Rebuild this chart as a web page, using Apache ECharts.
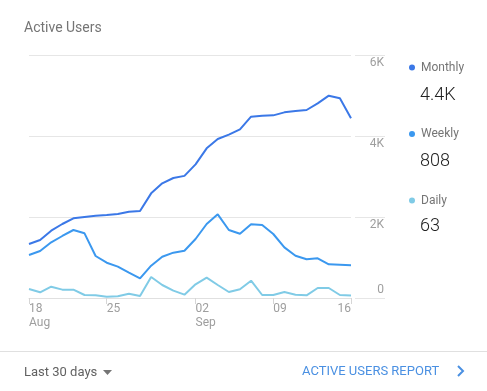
<!DOCTYPE html>
<html>
<head>
<meta charset="utf-8">
<script src="https://cdn.jsdelivr.net/npm/echarts@6/dist/echarts.min.js"></script>
<style>
html,body{margin:0;padding:0;background:#fff;}
#chart{width:487px;height:391px;}
</style>
</head>
<body>
<div id="chart"></div>
<script>
const dates = ['Aug 18','Aug 19','Aug 20','Aug 21','Aug 22','Aug 23','Aug 24','Aug 25','Aug 26','Aug 27',
  'Aug 28','Aug 29','Aug 30','Aug 31','Sep 01','Sep 02','Sep 03','Sep 04','Sep 05','Sep 06',
  'Sep 07','Sep 08','Sep 09','Sep 10','Sep 11','Sep 12','Sep 13','Sep 14','Sep 15','Sep 16'];
const tickDates = ['Aug 18','Aug 25','Sep 02','Sep 09','Sep 16'];
const tickLabels = ['18\nAug','25','02\nSep','09','16'];
const seriesNames = ['Monthly','Weekly','Daily'];
const monthly = [1333,1432,1662,1827,1967,2000,2033,2049,2074,2131,
  2148,2584,2831,2963,3015,3300,3696,3926,4035,4165,
  4477,4502,4510,4584,4617,4642,4806,4996,4930,4440];
const weekly = [1062,1160,1375,1531,1679,1597,1037,872,774,625,
  486,798,1020,1119,1168,1457,1827,2066,1679,1585,
  1819,1802,1580,1251,1045,955,980,832,823,808];
const daily = [222,140,280,206,206,74,66,33,41,107,
  50,519,321,181,82,338,502,321,148,214,
  428,74,74,148,82,66,247,247,74,63];
const yTicks = [0,2000,4000,6000];

const colors = ['#3b78e7','#3b98ef','#80cbe6'];
const FONT = 'Roboto, "Noto Sans", sans-serif';

function fmtVal(v){
  if (v >= 1000) return (Math.floor(v/100)/10).toFixed(1) + 'K';
  return String(v);
}
function fmtAxis(v){ return v === 0 ? '0' : (v/1000) + 'K'; }

const chart = echarts.init(document.getElementById('chart'));
const allSeries = [monthly, weekly, daily];
const lastVals = allSeries.map(a => a[a.length-1]);

const valueTexts = lastVals.map((v,i) => ({
  type:'text', left:420, top: 86.5 + i*65.5,
  style:{ text: fmtVal(v), fill:'#212121', font:'300 18px ' + FONT }
}));

const option = {
  animation:false,
  textStyle:{ fontFamily: FONT },
  title:{ text:'Active Users', left:19, top:16,
    textStyle:{ fontSize:14, fontWeight:'normal', color:'#757575', fontFamily: FONT } },
  legend:{
    orient:'vertical', left:404, top:56.5, itemGap:54.5,
    icon:'circle', itemWidth:6, itemHeight:6,
    data: seriesNames,
    textStyle:{ color:'#757575', fontSize:12, fontFamily: FONT, padding:[0,0,0,1] }
  },
  grid:[
    { left:29, right:136, top:55, bottom:93 },
    { left:355, right:102, top:55, bottom:93 }
  ],
  xAxis:[
    { type:'category', gridIndex:0, data:dates, boundaryGap:false,
      axisLine:{ show:true, lineStyle:{ color:'#e0e0e0' } },
      axisTick:{ show:true, length:6, lineStyle:{ color:'#d6d6d6' },
        interval:(idx,val) => tickDates.indexOf(val) >= 0 },
      axisLabel:{ color:'#9e9e9e', fontSize:12, lineHeight:14, align:'left', margin:4,
        interval:(idx,val) => tickDates.indexOf(val) >= 0 && idx < dates.length-1,
        formatter:(val) => tickLabels[tickDates.indexOf(val)] }
    },
    { type:'category', gridIndex:0, data:dates, boundaryGap:false, position:'bottom',
      axisLine:{ show:false }, axisTick:{ show:false },
      axisLabel:{ color:'#9e9e9e', fontSize:12, lineHeight:14, align:'right', margin:4,
        interval:(idx) => idx === dates.length-1,
        formatter:(val) => tickLabels[tickDates.indexOf(val)] }
    },
    { type:'value', gridIndex:1, show:false, min:0, max:1 }
  ],
  yAxis:[
    { type:'value', gridIndex:0, min:yTicks[0], max:yTicks[yTicks.length-1], interval:2000,
      axisLabel:{ show:false }, axisLine:{ show:false }, axisTick:{ show:false },
      splitLine:{ lineStyle:{ color:'#e6e6e6' } } },
    { type:'value', gridIndex:1, position:'right', min:yTicks[0], max:yTicks[yTicks.length-1], interval:2000,
      axisLine:{ show:false }, axisTick:{ show:false },
      splitLine:{ lineStyle:{ color:'#e6e6e6' } },
      axisLabel:{ inside:true, margin:1, verticalAlign:'top', color:'#9e9e9e', fontSize:12,
        padding:[2,0,0,0],
        formatter:(v) => v === 0 ? '' : fmtAxis(v) } },
    { type:'value', gridIndex:1, position:'right', min:yTicks[0], max:yTicks[yTicks.length-1], interval:2000,
      axisLine:{ show:false }, axisTick:{ show:false }, splitLine:{ show:false },
      axisLabel:{ inside:true, margin:1, verticalAlign:'bottom', color:'#9e9e9e', fontSize:12,
        padding:[0,0,2,0],
        formatter:(v) => v === 0 ? fmtAxis(v) : '' } }
  ],
  series: seriesNames.map((n,i) => ({
    name:n, type:'line', xAxisIndex:0, yAxisIndex:0,
    data: allSeries[i], showSymbol:false, symbol:'none',
    lineStyle:{ width:2, color:colors[i] }, itemStyle:{ color:colors[i] },
    z: 3 - i
  })),
  graphic:[
    ...valueTexts,
    { type:'line', shape:{ x1:0, y1:351.5, x2:487, y2:351.5 }, style:{ stroke:'#e0e0e0', lineWidth:1 } },
    { type:'text', left:24, top:366, style:{ text:'Last 30 days', fill:'#616161', font:'13px ' + FONT } },
    { type:'polygon', shape:{ points:[[103,370],[112,370],[107.5,375]] }, style:{ fill:'#757575' } },
    { type:'text', left:302, top:365, style:{ text:'ACTIVE USERS REPORT', fill:'#4a90e2', font:'13px ' + FONT } },
    { type:'polyline', shape:{ points:[[458,366],[463,371],[458,376]] }, style:{ stroke:'#4a90e2', lineWidth:2, fill:null } }
  ]
};
chart.setOption(option);
</script>
</body>
</html>
